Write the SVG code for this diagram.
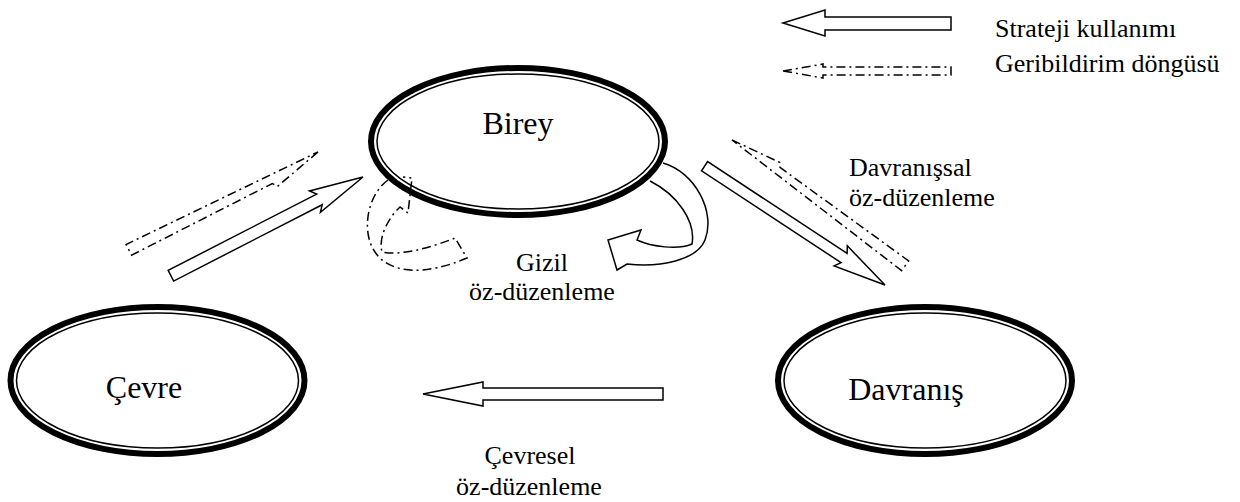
<svg xmlns="http://www.w3.org/2000/svg" width="1240" height="502" viewBox="0 0 1240 502">
<style>
.outer{fill:none;stroke:#000;stroke-width:6}
.inner{fill:none;stroke:#000;stroke-width:1.5}
.blk{fill:#fff;stroke:#000;stroke-width:1.5;stroke-linejoin:miter}
.dd{fill:none;stroke:#000;stroke-width:1.5;stroke-dasharray:9 4 2 4}
.cur{fill:none;stroke:#000;stroke-width:1.5}
.node{font-family:"Liberation Serif","Times New Roman",serif;font-size:32px;fill:#000;text-anchor:middle}
.lbl{font-family:"Liberation Serif","Times New Roman",serif;font-size:26px;fill:#000}
</style>
<rect width="1240" height="502" fill="#fff"/>

<g id="legend">
  <polygon class="blk" points="783,23 825,10 825,17 951,17 951,30 825,30 825,36"/>
  <text class="lbl" x="995" y="37">Strateji kullanımı</text>
  <polygon class="dd" points="783,71 823,64 823,67 951,67 951,75 823,75 823,78"/>
  <text class="lbl" x="995" y="72">Geribildirim döngüsü</text>
</g>

<g id="birey">
  <ellipse class="outer" cx="518" cy="141.5" rx="147" ry="73.5"/>
  <ellipse class="inner" cx="518" cy="141.5" rx="141" ry="67.5"/>
  <text class="node" x="518" y="134">Birey</text>
</g>

<g id="cevre">
  <ellipse class="outer" cx="157.5" cy="380.5" rx="147" ry="73.5"/>
  <ellipse class="inner" cx="157.5" cy="380.5" rx="141" ry="67.5"/>
  <text class="node" x="144" y="398">Çevre</text>
</g>

<g id="davranis">
  <ellipse class="outer" cx="925" cy="380.5" rx="147" ry="73.5"/>
  <ellipse class="inner" cx="925" cy="380.5" rx="141" ry="67.5"/>
  <text class="node" x="906" y="400">Davranış</text>
</g>

<g id="connectors">
  <polygon class="blk" transform="translate(363,177) rotate(-27.2)" points="0,0 -54,-12 -49,-6 -216,-6 -216,6 -49,6 -54,12"/>
  <polygon class="dd" transform="translate(318,152) rotate(-27.35)" points="0,0 -52,12 -55,7 -213,6 -213,-6"/>
  <polygon class="blk" transform="translate(885,285) rotate(33.36)" points="0,0 -53,-12 -49,-5.5 -216,-5.5 -216,5.5 -49,5.5 -53,12"/>
  <polygon class="dd" transform="translate(732,140) rotate(-144)" points="0,0 -52,10 -55,6 -214,6 -214,-6"/>
  <polygon class="blk" points="423,394 483,382 483,388 663,388 663,400 483,400 483,406"/>
  <path class="cur" d="M663,163 C695,172 716,212 705,240 C697,260 660,268 627,264 L617,270 L608,240 L641,230 L637,240 C652,247 678,250 692,244 C696,222 678,195 650,181"/>
  <path class="dd" d="M388,180 C366,196 360,236 378,256 C393,273 425,276 467,258 L455,238 C430,248 400,256 382,252 C378,238 388,218 400,207 L408,213 L412,178 L403,177"/>
</g>

<g id="labels">
  <text class="lbl" x="542" y="271" text-anchor="middle">Gizil</text>
  <text class="lbl" x="542" y="300" text-anchor="middle">öz-düzenleme</text>
  <text class="lbl" x="849" y="176">Davranışsal</text>
  <text class="lbl" x="849" y="206">öz-düzenleme</text>
  <text class="lbl" x="530" y="464" text-anchor="middle">Çevresel</text>
  <text class="lbl" x="529" y="495" text-anchor="middle">öz-düzenleme</text>
</g>
</svg>
